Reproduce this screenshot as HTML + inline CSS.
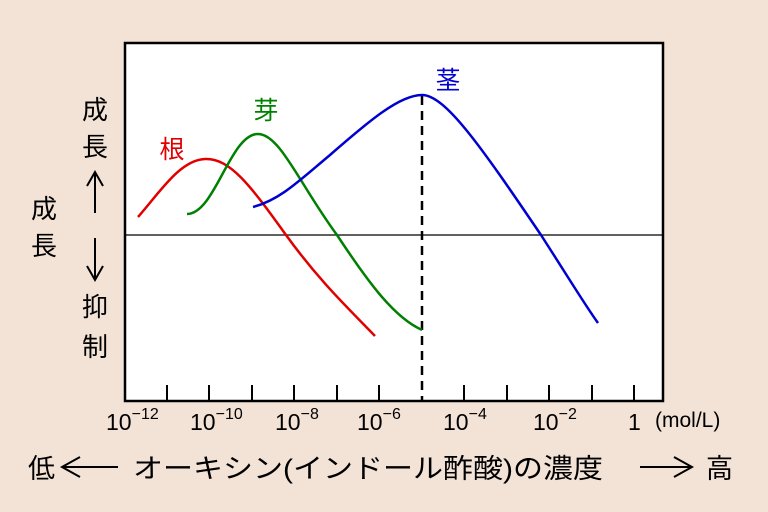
<!DOCTYPE html>
<html><head><meta charset="utf-8"><style>
html,body{margin:0;padding:0;background:#F3E3D7;}
svg{display:block}
text{font-family:"Liberation Sans","Noto Sans CJK JP",sans-serif;}
</style></head><body>
<svg width="768" height="512" viewBox="0 0 768 512" xmlns="http://www.w3.org/2000/svg">
<rect x="0" y="0" width="768" height="512" fill="#F3E3D7"/>
<rect x="125" y="43" width="538" height="358" fill="#fff" stroke="#000" stroke-width="2.5"/>
<line x1="125" y1="235" x2="663" y2="235" stroke="#000" stroke-width="1.3"/>
<g stroke="#000" stroke-width="2">
<line x1="167" y1="401" x2="167" y2="385"/><line x1="209" y1="401" x2="209" y2="385"/>
<line x1="252" y1="401" x2="252" y2="385"/><line x1="294" y1="401" x2="294" y2="385"/>
<line x1="337" y1="401" x2="337" y2="385"/><line x1="379" y1="401" x2="379" y2="385"/>
<line x1="464" y1="401" x2="464" y2="385"/><line x1="507" y1="401" x2="507" y2="385"/>
<line x1="549" y1="401" x2="549" y2="385"/><line x1="592" y1="401" x2="592" y2="385"/>
<line x1="634" y1="401" x2="634" y2="385"/>
</g>
<line x1="422" y1="96" x2="422" y2="401" stroke="#000" stroke-width="2.5" stroke-dasharray="9,6"/>
<path d="M138,217 C160,192 180,160 205,159 C230,158 250,185 286,235 C320,282 350,310 375,336" fill="none" stroke="#e00000" stroke-width="2.5"/>
<path d="M187,214 C215,214 230,134 258,134 C280,134 300,185 337,235 C370,285 395,318 422,330" fill="none" stroke="#008000" stroke-width="2.5"/>
<path d="M253,207 C280,200 300,180 330,155 C370,120 400,95 422,95 C445,95 480,145 541,235 C570,280 585,305 598,323" fill="none" stroke="#0000d0" stroke-width="2.5"/>
<text x="172" y="158" font-size="25" fill="#e00000" text-anchor="middle">根</text>
<text x="266" y="119" font-size="25" fill="#008000" text-anchor="middle">芽</text>
<text x="448" y="89" font-size="25" fill="#0000d0" text-anchor="middle">茎</text>
<g font-size="26" fill="#000" text-anchor="middle">
<text x="95" y="119">成</text><text x="95" y="156">長</text>
<text x="95" y="316">抑</text><text x="95" y="356">制</text>
<text x="44" y="218">成</text><text x="44" y="255">長</text>
</g>
<g stroke="#000" stroke-width="2" fill="none">
<line x1="95" y1="172" x2="95" y2="213"/><polyline points="87,186 95,172 103,186"/>
<line x1="95" y1="238" x2="95" y2="280"/><polyline points="87,266 95,280 103,266"/>
<line x1="62" y1="467" x2="118" y2="467"/><polyline points="80,457 62,467 80,477"/>
<line x1="640" y1="467" x2="692" y2="467"/><polyline points="674,457 692,467 674,477"/>
</g>
<g font-size="23" fill="#000">
<text x="106" y="430">10<tspan dy="-11" font-size="16">−12</tspan></text>
<text x="190" y="430">10<tspan dy="-11" font-size="16">−10</tspan></text>
<text x="275" y="430">10<tspan dy="-11" font-size="16">−8</tspan></text>
<text x="357" y="430">10<tspan dy="-11" font-size="16">−6</tspan></text>
<text x="443" y="430">10<tspan dy="-11" font-size="16">−4</tspan></text>
<text x="533" y="430">10<tspan dy="-11" font-size="16">−2</tspan></text>
<text x="628" y="430">1</text>
<text x="655" y="427" font-size="21" font-family="Liberation Mono, monospace">(mol/L)</text>
</g>
<g font-size="27" fill="#000">
<text x="28" y="478">低</text>
<text x="133" y="478" textLength="470" lengthAdjust="spacingAndGlyphs">オーキシン(インドール酢酸)の濃度</text>
<text x="706" y="478">高</text>
</g>
</svg>
</body></html>
